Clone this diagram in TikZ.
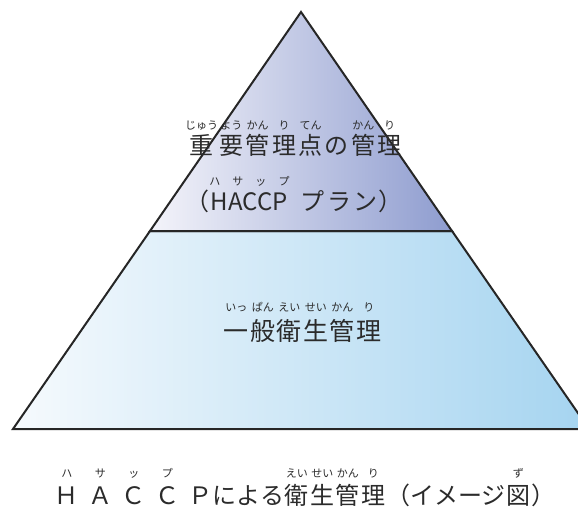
\documentclass[tikz,border=0pt]{standalone}
\usepackage{fontspec}
\setmainfont{Noto Sans CJK JP}

\definecolor{inkgray}{HTML}{2B2B2B}
\definecolor{ccpl}{HTML}{F4F4FA}
\definecolor{ccpm}{HTML}{B8C0E1}
\definecolor{ccpr}{HTML}{8E9CCF}
\definecolor{gmpl}{HTML}{F6FAFD}
\definecolor{gmpm}{HTML}{C7E3F4}
\definecolor{gmpr}{HTML}{A5D4F0}

% ruby: \rb[min width]{base}{reading}
\newlength\rbw \setlength\rbw{26pt}
\newlength\rbsep \setlength\rbsep{4pt}
\newcommand\rubyfont{\fontsize{11}{11}\selectfont}
\newcommand\rb[3][\rbw]{%
  \leavevmode\setbox0\hbox{\rubyfont\vrule height.88em depth.12em width0pt#3}%
  \dimen0=#1\relax\ifdim\wd0>\dimen0 \dimen0=\wd0 \fi
  \vbox{\offinterlineskip\hbox to\dimen0{\hss\box0\hss}\kern\rbsep
    \hbox to\dimen0{\hss\vrule height.88em depth.12em width0pt#2\hss}}}

\begin{document}
\begin{tikzpicture}[x=1pt, y=-1pt,
  edge/.style={line width=2pt, draw=black!85},
  ccpfill/.style={left color=ccpl, middle color=ccpm, right color=ccpr},
  gmpfill/.style={left color=gmpl, middle color=gmpm, right color=gmpr},
  ccplabel/.style={text=inkgray, anchor=base, inner sep=0pt,
    font={\fontsize{24}{24}\selectfont\setlength\rbw{26.4pt}\setlength\rbsep{2.5pt}}},
  gmplabel/.style={text=inkgray, anchor=base, inner sep=0pt,
    font={\fontsize{25}{25}\selectfont\setlength\rbw{26.5pt}\setlength\rbsep{5pt}}},
  captionlabel/.style={text=inkgray, anchor=base, inner sep=0pt,
    font={\fontsize{24}{24}\selectfont\setlength\rbw{24pt}\setlength\rbsep{4.5pt}}}]
  \useasboundingbox (0,0) rectangle (578,508);
  \clip (0,0) rectangle (578,508);

  \coordinate (apex) at (301,12);
  \coordinate (ml) at (150,231);
  \coordinate (mr) at (452,231);
  \coordinate (bl) at (13,429);
  \coordinate (br) at (589,429);

  % tiers
  \draw[edge, gmpfill] (ml) -- (mr) -- (br) -- (bl) -- cycle;
  \draw[edge, ccpfill] (apex) -- (mr) -- (ml) -- cycle;

  % upper tier text
  \node[ccplabel] (ccpA) at (294,154) {\rb{重}{じゅう}\rb{要}{よう}\rb{管}{かん}\rb{理}{り}\rb{点}{てん}\rb{の}{}\rb{管}{かん}\rb{理}{り}};
  \node[ccplabel] (ccpB) at (294,210) {（\rb[0pt]{HACCP}{ハ\hspace{1.1em}サ\hspace{1.1em}ッ\hspace{1.1em}プ}\hspace{10pt}\rb{プ}{}\rb{ラ}{}\rb{ン}{}）};

  % lower tier text
  \node[gmplabel] (gmp) at (302.5,340) {\rb{一}{いっ}\rb{般}{ぱん}\rb{衛}{えい}\rb{生}{せい}\rb{管}{かん}\rb{理}{り}};

  % caption
  \node[captionlabel] (caption) at (305,504) {\rb{Ｈ}{ハ}\hspace{9.5pt}\rb{Ａ}{サ}\hspace{9.5pt}\rb{Ｃ}{ッ}\hspace{9.5pt}\rb{Ｃ}{プ}\hspace{9.5pt}Ｐによる\rb[25.5pt]{衛}{えい}\rb[25.5pt]{生}{せい}\rb[25.5pt]{管}{かん}\rb[25.5pt]{理}{り}（イメージ\rb[25.5pt]{図}{ず}）};
\end{tikzpicture}
\end{document}
